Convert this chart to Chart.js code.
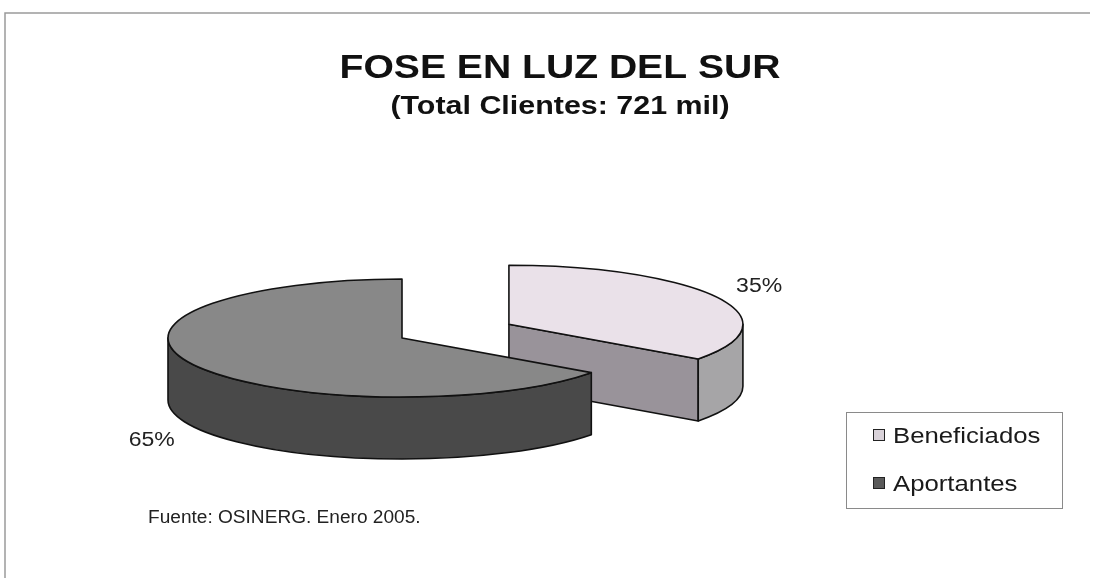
<!DOCTYPE html>
<html>
<head>
<meta charset="utf-8">
<script src="https://cdn.jsdelivr.net/npm/chart.js@4.4.1/dist/chart.umd.min.js"></script>
<style>
  html, body { margin: 0; padding: 0; background: #fff; }
</style>
</head>
<body>
<canvas id="c" width="1102" height="578"></canvas>
<script>
// data
const labels = ['Beneficiados', 'Aportantes'];
const shares = [35, 65];
const pctLabels = ['35%', '65%'];
const titleText = 'FOSE EN LUZ DEL SUR';
const subtitleText = '(Total Clientes: 721 mil)';
const sourceText = 'Fuente: OSINERG. Enero 2005.';

// look
const topColors = ['#eae1e9', '#888888'];
const wallColors = ['#a6a5a7', '#494949'];
const cutColors = ['#99939a', '#6b6b6b'];
const FLAT = 0.252;   // vertical squash of the pie
const DEPTH = 62;     // thickness of the 3d slab
const FONT = '"Liberation Sans", Arial, sans-serif';

// the scanned text is a bit wider than plain Arial
function wideText(ctx, text, x, y, font, sx, align) {
  ctx.save();
  ctx.font = font;
  ctx.textAlign = align || 'center';
  ctx.textBaseline = 'alphabetic';
  ctx.translate(x, y);
  ctx.scale(sx, 1);
  ctx.fillText(text, 0, 0);
  ctx.restore();
}

// draws the pie as an exploded 3d slab, using the arcs laid out by Chart.js
const pie3d = {
  id: 'pie3d',
  beforeDatasetsDraw(chart) {
    const ctx = chart.ctx;
    const meta = chart.getDatasetMeta(0);
    const cy0 = meta.data[0].y;
    const slices = meta.data.map((arc, i) => {
      const mid = (arc.startAngle + arc.endAngle) / 2;
      const off = arc.options.offset || 0;
      return {
        i, mid, s: arc.startAngle, e: arc.endAngle, r: arc.outerRadius,
        cx: arc.x + Math.cos(mid) * off,
        cy: cy0 + Math.sin(mid) * off * FLAT
      };
    }).sort((a, b) => Math.sin(a.mid) - Math.sin(b.mid));

    ctx.save();
    ctx.lineWidth = 1.6;
    ctx.strokeStyle = '#111';
    ctx.lineJoin = 'round';
    slices.forEach(sl => {
      const {cx, cy, s, e, r, i} = sl;
      const rx = r, ry = r * FLAT;
      const face = a => {
        const px = cx + rx * Math.cos(a), py = cy + ry * Math.sin(a);
        ctx.beginPath();
        ctx.moveTo(cx, cy);
        ctx.lineTo(px, py);
        ctx.lineTo(px, py + DEPTH);
        ctx.lineTo(cx, cy + DEPTH);
        ctx.closePath();
        ctx.fillStyle = cutColors[i];
        ctx.fill();
        ctx.stroke();
      };
      if (Math.cos(s) < -1e-6) face(s);
      if (Math.cos(e) > 1e-6) face(e);
      // outer wall, front half only
      for (let k = -1; k <= 1; k++) {
        const a1 = Math.max(s, 2 * Math.PI * k);
        const a2 = Math.min(e, 2 * Math.PI * k + Math.PI);
        if (a2 <= a1) continue;
        ctx.beginPath();
        ctx.ellipse(cx, cy, rx, ry, 0, a1, a2);
        ctx.ellipse(cx, cy + DEPTH, rx, ry, 0, a2, a1, true);
        ctx.closePath();
        ctx.fillStyle = wallColors[i];
        ctx.fill();
        ctx.stroke();
      }
      // top
      ctx.beginPath();
      ctx.moveTo(cx, cy);
      ctx.ellipse(cx, cy, rx, ry, 0, s, e);
      ctx.closePath();
      ctx.fillStyle = topColors[i];
      ctx.fill();
      ctx.stroke();
    });

    // percentage labels
    ctx.fillStyle = '#222';
    slices.forEach(sl => {
      const down = Math.sin(sl.mid) > 0 ? DEPTH : 0;
      const x = sl.cx + sl.r * 1.2 * Math.cos(sl.mid);
      const y = sl.cy + sl.r * FLAT * 1.45 * Math.sin(sl.mid) + down + 7;
      wideText(ctx, pctLabels[sl.i], x, y, '20px ' + FONT, 1.15);
    });
    ctx.restore();
    return false;
  }
};

// frame, titles, source note and boxed legend
const decor = {
  id: 'decor',
  beforeDraw(chart) {
    const ctx = chart.ctx;
    ctx.save();
    ctx.strokeStyle = '#9a9a9a';
    ctx.lineWidth = 1.5;
    ctx.beginPath();
    ctx.moveTo(5, 578);
    ctx.lineTo(5, 13);
    ctx.lineTo(1090, 13);
    ctx.stroke();
    ctx.restore();
  },
  afterDraw(chart) {
    const ctx = chart.ctx;
    ctx.save();
    ctx.fillStyle = '#111';
    wideText(ctx, titleText, 560, 78, 'bold 34px ' + FONT, 1.15);
    wideText(ctx, subtitleText, 560, 114, 'bold 26px ' + FONT, 1.17);
    ctx.fillStyle = '#222';
    wideText(ctx, sourceText, 148, 523, '18px ' + FONT, 1.06, 'left');

    // legend
    ctx.strokeStyle = '#8a8a8a';
    ctx.lineWidth = 1;
    ctx.strokeRect(846.5, 412.5, 216, 96);
    const ys = [435, 483];
    labels.forEach((lab, i) => {
      ctx.fillStyle = i === 0 ? '#d9d2d9' : '#5a5a5a';
      ctx.fillRect(873, ys[i] - 6, 12, 12);
      ctx.strokeStyle = '#222';
      ctx.strokeRect(873.5, ys[i] - 5.5, 11, 11);
      ctx.fillStyle = '#1a1a1a';
      wideText(ctx, lab, 893, ys[i] + 8, '22px ' + FONT, 1.17, 'left');
    });
    ctx.restore();
  }
};

new Chart(document.getElementById('c'), {
  type: 'pie',
  data: {
    labels: labels,
    datasets: [{
      data: shares,
      backgroundColor: topColors,
      borderWidth: 0,
      offset: [120, 0],
      radius: 234
    }]
  },
  options: {
    responsive: false,
    animation: false,
    devicePixelRatio: 1,
    layout: { padding: { left: 100, right: 398, top: 170, bottom: 72 } },
    plugins: {
      legend: { display: false },
      tooltip: { enabled: false }
    }
  },
  plugins: [pie3d, decor]
});
</script>
</body>
</html>
